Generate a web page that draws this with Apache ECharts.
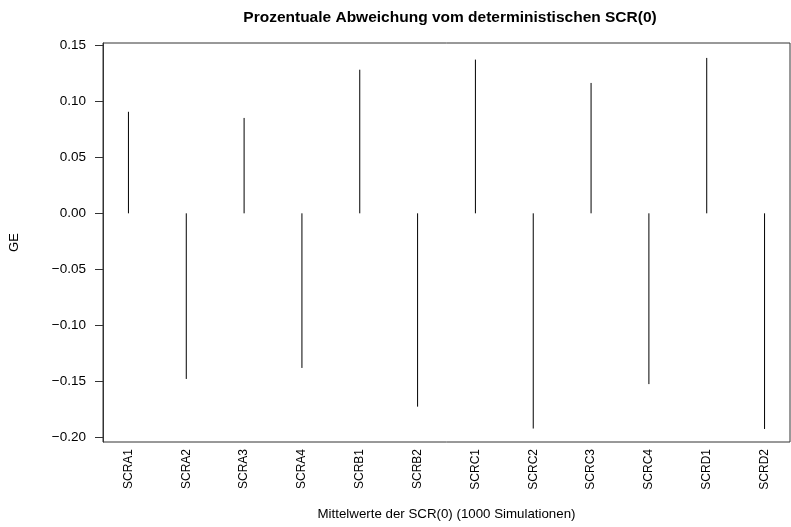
<!DOCTYPE html>
<html>
<head>
<meta charset="utf-8">
<script src="https://cdn.jsdelivr.net/npm/echarts@6/dist/echarts.min.js"></script>
<style>
  html, body { margin: 0; padding: 0; background: #fff; }
  #chart { width: 791px; height: 527px; }
</style>
</head>
<body>
<div id="chart"></div>
<script>
// Mean deviation of each SCR(0) scenario from the deterministic value
const categories = ['SCRA1', 'SCRA2', 'SCRA3', 'SCRA4', 'SCRB1', 'SCRB2',
                    'SCRC1', 'SCRC2', 'SCRC3', 'SCRC4', 'SCRD1', 'SCRD2'];
const deviations = [0.0905, -0.1476, 0.0850, -0.1378, 0.1280, -0.1723,
                    0.1370, -0.1918, 0.1162, -0.1522, 0.1385, -0.1922];
const yTicks = [-0.20, -0.15, -0.10, -0.05, 0.00, 0.05, 0.10, 0.15];
const positions = categories.map((c, i) => i + 1);

const FONT = '"Liberation Sans", Arial, sans-serif';
const chart = echarts.init(document.getElementById('chart'), null, { renderer: 'canvas' });

chart.setOption({
  animation: false,
  backgroundColor: '#ffffff',
  title: {
    text: 'Prozentuale Abweichung vom deterministischen SCR(0)',
    left: 445, top: 5, textAlign: 'center',
    textStyle: { fontFamily: FONT, fontSize: 15.5, fontWeight: 'bold', color: '#000' }
  },
  grid: {
    left: 100, right: 1, top: 43, bottom: 85,
    show: true, borderColor: '#333', borderWidth: 1, backgroundColor: 'transparent'
  },
  xAxis: {
    type: 'value',
    min: 0.56, max: 12.44,
    name: 'Mittelwerte der SCR(0) (1000 Simulationen)',
    nameLocation: 'middle', nameGap: 66,
    nameTextStyle: { fontFamily: FONT, fontSize: 13.3, color: '#000' },
    axisLine: { show: false },
    axisTick: { show: false },
    splitLine: { show: false },
    axisLabel: {
      customValues: positions,
      rotate: 90, margin: 7,
      fontFamily: FONT, fontSize: 12, color: '#000',
      formatter: v => categories[Math.round(v) - 1] || ''
    }
  },
  yAxis: {
    type: 'value',
    min: -0.2038, max: 0.1518,
    name: 'GE',
    nameLocation: 'middle', nameGap: 82, nameRotate: 90,
    nameTextStyle: { fontFamily: FONT, fontSize: 13, color: '#000' },
    axisLine: { show: true, lineStyle: { color: '#333', width: 1 } },
    axisTick: { show: true, customValues: yTicks, length: 8, lineStyle: { color: '#333' } },
    splitLine: { show: false },
    axisLabel: {
      customValues: yTicks,
      margin: 17,
      fontFamily: FONT, fontSize: 13.5, color: '#000',
      formatter: v => (v < 0 ? '\u2212' : '') + Math.abs(v).toFixed(2)
    }
  },
  series: [{
    type: 'custom',
    data: positions.map((x, i) => [x, deviations[i]]),
    renderItem: (params, api) => {
      const base = api.coord([api.value(0), 0]);
      const tip = api.coord([api.value(0), api.value(1)]);
      return {
        type: 'line',
        shape: { x1: base[0], y1: base[1], x2: tip[0], y2: tip[1] },
        style: { stroke: '#000', lineWidth: 1 }
      };
    }
  }]
});
</script>
</body>
</html>
